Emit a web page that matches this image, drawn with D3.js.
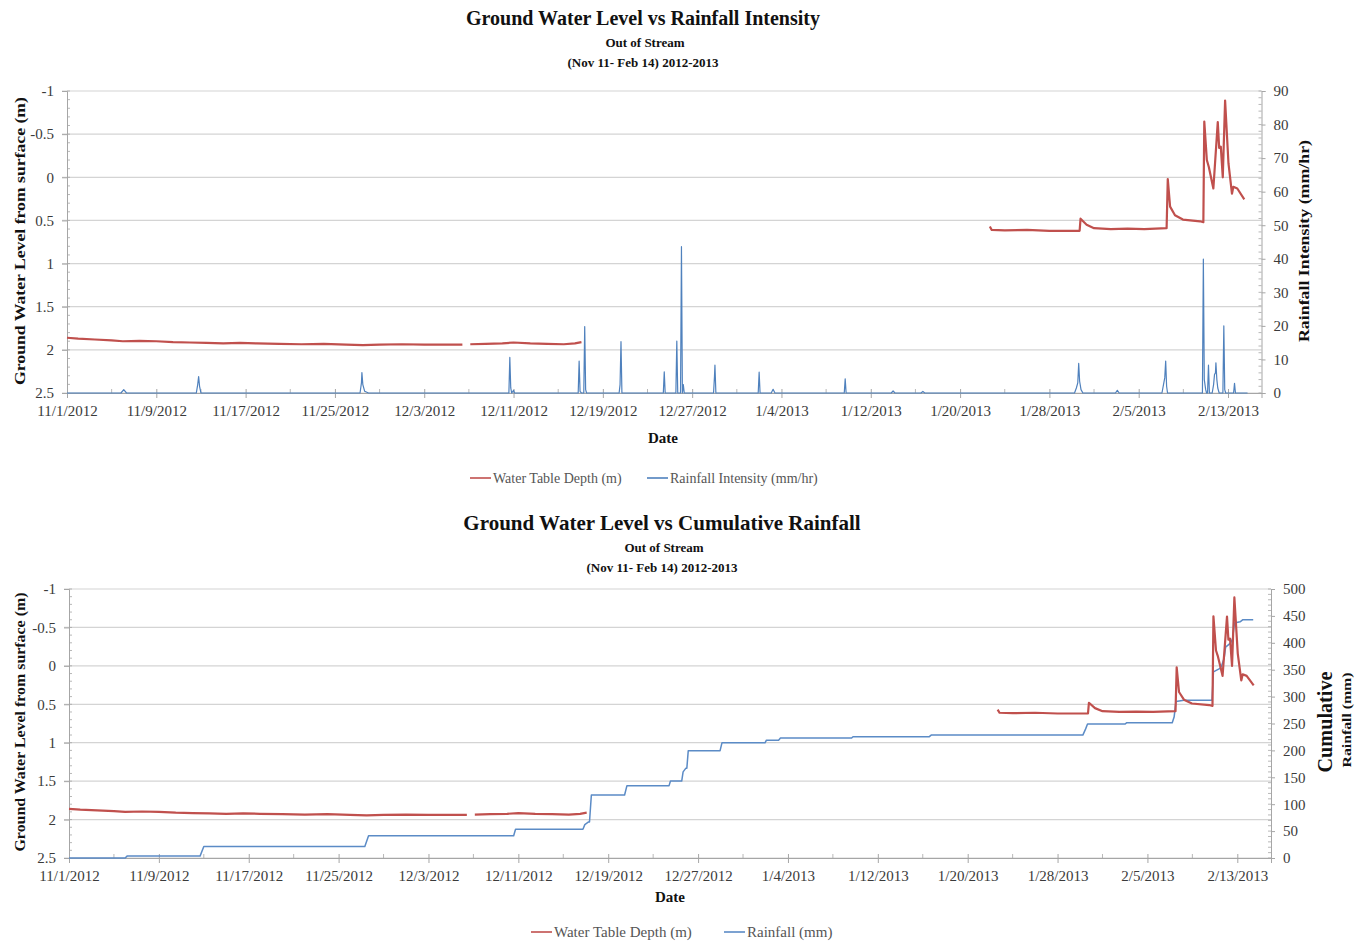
<!DOCTYPE html>
<html>
<head>
<meta charset="utf-8">
<script src="https://cdn.jsdelivr.net/npm/d3@7"></script>
<style>
  body { margin: 0; background: #fff; }
  svg { display: block; font-family: "Liberation Serif", "Times New Roman", serif; }
</style>
</head>
<body>
<svg id="chart" width="1366" height="943"></svg>
<script>
// ---- Axis labels -------------------------------------------------------
const dateTicks = ["11/1/2012", "11/9/2012", "11/17/2012", "11/25/2012", "12/3/2012",
  "12/11/2012", "12/19/2012", "12/27/2012", "1/4/2013", "1/12/2013", "1/20/2013",
  "1/28/2013", "2/5/2013", "2/13/2013"];
const dateAxisEnd = "2/16/2013";
const depthTicks = [-1, -0.5, 0, 0.5, 1, 1.5, 2, 2.5];
const intensityTicks = [0, 10, 20, 30, 40, 50, 60, 70, 80, 90];
const cumulativeTicks = [0, 50, 100, 150, 200, 250, 300, 350, 400, 450, 500];

// ---- Water table depth below surface (m); null marks a logger gap ------
const depthTime = [
  "2012-11-01 00:00", "2012-11-02 00:00", "2012-11-03 12:00", "2012-11-05 00:00",
  "2012-11-06 00:00", "2012-11-07 12:00", "2012-11-09 00:00", "2012-11-10 12:00",
  "2012-11-12 00:00", "2012-11-13 12:00", "2012-11-15 00:00", "2012-11-16 12:00",
  "2012-11-18 00:00", "2012-11-20 00:00", "2012-11-22 00:00", "2012-11-24 00:00",
  "2012-11-26 00:00", "2012-11-27 12:00", "2012-11-29 00:00", "2012-12-01 00:00",
  "2012-12-03 00:00", "2012-12-05 00:00", "2012-12-06 10:00", "2012-12-06 16:00",
  "2012-12-07 03:00", "2012-12-08 12:00", "2012-12-10 00:00", "2012-12-11 00:00",
  "2012-12-12 12:00", "2012-12-14 00:00", "2012-12-15 12:00", "2012-12-16 12:00",
  "2012-12-17 02:00", "2012-12-17 08:00",
  "2013-01-22 16:00", "2013-01-22 20:00", "2013-01-24 00:00", "2013-01-26 00:00",
  "2013-01-28 00:00", "2013-01-30 17:00", "2013-01-30 19:00", "2013-01-31 08:00",
  "2013-02-01 00:00", "2013-02-02 12:00", "2013-02-04 00:00", "2013-02-05 12:00",
  "2013-02-07 12:00", "2013-02-07 14:30", "2013-02-07 19:30", "2013-02-08 06:00",
  "2013-02-08 23:00", "2013-02-10 12:00", "2013-02-10 19:00", "2013-02-10 21:00",
  "2013-02-11 02:30", "2013-02-11 06:45", "2013-02-11 16:30", "2013-02-12 02:00",
  "2013-02-12 05:00", "2013-02-12 08:30", "2013-02-12 12:45", "2013-02-12 17:45",
  "2013-02-13 01:00", "2013-02-13 08:30", "2013-02-13 11:30", "2013-02-13 20:00",
  "2013-02-14 11:00"
];
const depthValue = [
  1.86, 1.87, 1.88, 1.89,
  1.90, 1.895, 1.90, 1.91,
  1.915, 1.92, 1.925, 1.92,
  1.925, 1.93, 1.935, 1.93,
  1.94, 1.945, 1.94, 1.935,
  1.94, 1.94, 1.94, null,
  1.935, 1.93, 1.925, 1.915,
  1.925, 1.93, 1.935, 1.925,
  1.91, null,
  0.57, 0.61, 0.615, 0.61,
  0.62, 0.62, 0.48, 0.55,
  0.59, 0.60, 0.595, 0.60,
  0.59, 0.02, 0.34, 0.44,
  0.49, 0.51, 0.52, -0.645,
  -0.20, -0.12, 0.13, -0.64,
  -0.34, -0.355, 0.0, -0.89,
  -0.16, 0.19, 0.11, 0.13,
  0.255
];

// ---- Rainfall intensity (mm/hr) ----------------------------------------
const intensityTime = [
  "2012-11-01 00:00", "2012-11-05 20:00", "2012-11-06 02:00", "2012-11-06 08:00",
  "2012-11-12 14:00", "2012-11-12 17:00", "2012-11-12 19:00", "2012-11-12 21:00", "2012-11-13 00:00",
  "2012-11-27 06:00", "2012-11-27 09:00", "2012-11-27 10:00", "2012-11-27 12:00", "2012-11-27 16:00", "2012-11-28 00:00",
  "2012-12-10 14:00", "2012-12-10 16:00", "2012-12-10 18:00", "2012-12-10 20:00", "2012-12-11 00:00", "2012-12-11 02:00",
  "2012-12-16 19:00", "2012-12-16 21:00", "2012-12-16 23:00", "2012-12-17 02:00",
  "2012-12-17 07:00", "2012-12-17 09:00", "2012-12-17 11:00", "2012-12-17 13:00",
  "2012-12-20 11:00", "2012-12-20 13:00", "2012-12-20 15:00", "2012-12-20 17:00",
  "2012-12-24 10:00", "2012-12-24 12:00", "2012-12-24 14:00",
  "2012-12-25 13:00", "2012-12-25 15:00", "2012-12-25 17:00",
  "2012-12-25 23:00", "2012-12-26 01:00", "2012-12-26 03:00", "2012-12-26 05:00", "2012-12-26 07:00",
  "2012-12-28 22:00", "2012-12-29 00:00", "2012-12-29 01:00", "2012-12-29 03:00",
  "2013-01-01 22:00", "2013-01-02 00:00", "2013-01-02 02:00",
  "2013-01-03 02:00", "2013-01-03 06:00", "2013-01-03 10:00",
  "2013-01-09 15:00", "2013-01-09 17:00", "2013-01-09 19:00",
  "2013-01-13 20:00", "2013-01-14 00:00", "2013-01-14 04:00",
  "2013-01-16 12:00", "2013-01-16 16:00", "2013-01-16 20:00",
  "2013-01-30 06:00", "2013-01-30 10:00", "2013-01-30 13:00", "2013-01-30 15:00", "2013-01-30 17:00", "2013-01-30 20:00", "2013-01-31 00:00",
  "2013-02-02 22:00", "2013-02-03 02:00", "2013-02-03 06:00",
  "2013-02-07 02:00", "2013-02-07 06:00", "2013-02-07 08:00", "2013-02-07 10:00", "2013-02-07 12:00", "2013-02-07 14:00",
  "2013-02-10 17:00", "2013-02-10 19:00", "2013-02-10 21:00", "2013-02-11 00:00", "2013-02-11 02:00",
  "2013-02-11 04:00", "2013-02-11 06:00", "2013-02-11 08:00",
  "2013-02-11 14:00", "2013-02-11 17:00", "2013-02-11 19:00", "2013-02-11 21:00", "2013-02-11 22:00", "2013-02-12 00:00", "2013-02-12 02:00", "2013-02-12 05:00",
  "2013-02-12 13:00", "2013-02-12 15:00", "2013-02-12 17:00", "2013-02-12 19:00",
  "2013-02-13 12:00", "2013-02-13 14:00", "2013-02-13 16:00",
  "2013-02-14 18:00"
];
const intensityValue = [
  0, 0, 1.0, 0,
  0, 2.5, 4.9, 2.0, 0,
  0, 3.0, 6.1, 2.5, 0.5, 0,
  0, 10.6, 1.5, 0, 0.8, 0,
  0, 9.5, 0.5, 0,
  0, 19.8, 1.0, 0,
  0, 2.5, 15.3, 0,
  0, 6.3, 0,
  0, 15.5, 0,
  0, 43.6, 0, 2.5, 0,
  0, 5.0, 8.3, 0,
  0, 6.2, 0,
  0, 1.1, 0,
  0, 4.2, 0,
  0, 0.6, 0,
  0, 0.5, 0,
  0, 1.5, 3.0, 8.8, 3.5, 1.0, 0,
  0, 0.8, 0,
  0, 3.0, 4.5, 9.5, 2.0, 0,
  0, 39.9, 4.0, 1.0, 0,
  0, 8.3, 0,
  0, 2.5, 5.5, 6.0, 9.0, 4.0, 1.5, 0,
  0, 20.0, 1.0, 0,
  0, 2.9, 0,
  0
];

// ---- Cumulative rainfall (mm) ------------------------------------------
const cumulativeTime = [
  "2012-11-01 00:00", "2012-11-06 00:00", "2012-11-06 04:00", "2012-11-12 16:00",
  "2012-11-13 00:00", "2012-11-27 08:00", "2012-11-27 16:00", "2012-12-10 14:00",
  "2012-12-10 18:00", "2012-12-16 18:00", "2012-12-16 22:00", "2012-12-17 06:00",
  "2012-12-17 08:00", "2012-12-17 12:00", "2012-12-20 11:00", "2012-12-20 16:00",
  "2012-12-24 10:00", "2012-12-24 13:00", "2012-12-25 13:00", "2012-12-25 16:00",
  "2012-12-25 22:00", "2012-12-26 00:00", "2012-12-26 03:00", "2012-12-28 23:00",
  "2012-12-29 03:00", "2013-01-01 23:00", "2013-01-02 02:00", "2013-01-03 04:00",
  "2013-01-03 08:00", "2013-01-09 16:00", "2013-01-09 19:00", "2013-01-16 14:00",
  "2013-01-16 18:00", "2013-01-30 06:00", "2013-01-30 12:00", "2013-01-30 16:00",
  "2013-02-03 00:00", "2013-02-03 04:00", "2013-02-07 05:00", "2013-02-07 09:00",
  "2013-02-07 13:00", "2013-02-08 06:00", "2013-02-10 18:00", "2013-02-10 21:00",
  "2013-02-11 10:00", "2013-02-11 14:00", "2013-02-11 20:00", "2013-02-11 23:00",
  "2013-02-12 10:00", "2013-02-12 14:00", "2013-02-12 18:00", "2013-02-13 06:00",
  "2013-02-13 12:00", "2013-02-14 10:00"
];
const cumulativeValue = [
  0, 0, 3.5, 3.5,
  21.5, 21.5, 41.5, 41.5,
  53.5, 53.5, 62, 67,
  67, 117, 117, 134.5,
  134.5, 143, 143, 160,
  167, 167, 199.5, 199.5,
  214, 214, 219, 219,
  223, 223, 225.5, 225.5,
  228.5, 228.5, 240, 249,
  249, 251.5, 251.5, 262,
  291, 293, 293, 346,
  352, 356, 372, 392,
  400, 408, 437, 439,
  443, 443
];

// ---- Drawing -----------------------------------------------------------
const svg = d3.select("#chart");
svg.append("rect").attr("width", 1366).attr("height", 943).attr("fill", "#fff");

const parseTime = d3.timeParse("%Y-%m-%d %H:%M");
const parseTick = d3.timeParse("%m/%d/%Y");
const RED = "#c0504d", BLUE = "#4f81bd", GRID = "#d4d4d4", AXIS = "#a6a6a6", LABEL = "#3a3a3a";

function series(times, values) {
  return times.map((t, i) => ({ t: parseTime(t), v: values[i] }));
}

function drawPanel(p) {
  const g = svg.append("g");
  const x = d3.scaleTime()
    .domain([parseTick(dateTicks[0]), parseTick(dateAxisEnd)])
    .range([p.left, p.right]);
  const yL = d3.scaleLinear()
    .domain([depthTicks[0], depthTicks[depthTicks.length - 1]])
    .range([p.top, p.bottom]);
  const yR = d3.scaleLinear()
    .domain([p.rightTicks[0], p.rightTicks[p.rightTicks.length - 1]])
    .range([p.bottom, p.top]);

  // horizontal gridlines
  g.append("g").selectAll("line").data(depthTicks).join("line")
    .attr("x1", p.left - 5).attr("x2", p.right)
    .attr("y1", d => yL(d)).attr("y2", d => yL(d))
    .attr("stroke", GRID).attr("stroke-width", 1.2);

  // left axis
  const la = g.append("g").attr("transform", `translate(${p.left},0)`)
    .call(d3.axisLeft(yL).tickValues(depthTicks).tickSize(5).tickPadding(8)
      .tickFormat(d => String(d)));
  la.select(".domain").attr("stroke", AXIS);
  la.selectAll(".tick line").attr("stroke", AXIS);
  la.selectAll("text").attr("font-size", 15).attr("fill", LABEL)
    .attr("font-family", "Liberation Serif, serif");
  g.append("g").selectAll("line").data(d3.range(-10, 25, 1).map(d => d / 10)).join("line")
    .attr("x1", p.left).attr("x2", p.left + 3)
    .attr("y1", d => yL(d)).attr("y2", d => yL(d))
    .attr("stroke", AXIS).attr("stroke-width", 0.8);

  // right axis
  const rStep = p.rightTicks[1] - p.rightTicks[0];
  const ra = g.append("g").attr("transform", `translate(${p.right},0)`)
    .call(d3.axisRight(yR).tickValues(p.rightTicks).tickSize(4).tickPadding(8)
      .tickFormat(d => String(d)));
  ra.select(".domain").attr("stroke", AXIS);
  ra.selectAll(".tick line").attr("stroke", AXIS);
  ra.selectAll("text").attr("font-size", 15).attr("fill", LABEL)
    .attr("font-family", "Liberation Serif, serif");
  const rMax = p.rightTicks[p.rightTicks.length - 1];
  g.append("g").selectAll("line").data(d3.range(0, rMax + 0.001, rStep / 5)).join("line")
    .attr("x1", p.right - 3).attr("x2", p.right)
    .attr("y1", d => yR(d)).attr("y2", d => yR(d))
    .attr("stroke", AXIS).attr("stroke-width", 0.8);

  // bottom date axis
  const tickDates = dateTicks.map(parseTick);
  const xa = g.append("g").attr("transform", `translate(0,${p.bottom})`)
    .call(d3.axisBottom(x).tickValues(tickDates).tickSize(5).tickPadding(7)
      .tickFormat(d3.timeFormat("%-m/%-d/%Y")));
  xa.select(".domain").attr("stroke", AXIS);
  xa.selectAll(".tick line").attr("stroke", AXIS).attr("y1", -4);
  xa.selectAll("text").attr("font-size", 15).attr("fill", LABEL)
    .attr("font-family", "Liberation Serif, serif");
  const minor = tickDates.map(d => d3.timeDay.offset(d, 4)).filter(d => x(d) < p.right);
  g.append("g").selectAll("line").data(minor).join("line")
    .attr("x1", d => x(d)).attr("x2", d => x(d))
    .attr("y1", p.bottom - 4).attr("y2", p.bottom)
    .attr("stroke", AXIS).attr("stroke-width", 0.8);

  // rainfall series on the secondary axis
  g.append("path").datum(series(p.rainTime, p.rainValue))
    .attr("fill", "none").attr("stroke", p.rainColor).attr("stroke-width", p.rainWidth)
    .attr("stroke-linejoin", "round")
    .attr("d", d3.line().x(d => x(d.t)).y(d => yR(d.v)));

  // water table depth on the primary axis
  g.append("path").datum(series(depthTime, depthValue))
    .attr("fill", "none").attr("stroke", RED).attr("stroke-width", 2.2)
    .attr("stroke-linejoin", "round")
    .attr("d", d3.line().defined(d => d.v !== null).x(d => x(d.t)).y(d => yL(d.v)));

  // titles
  const t = g.append("g").attr("font-weight", "bold").attr("fill", "#111").attr("text-anchor", "middle");
  t.append("text").attr("x", p.titleX).attr("y", p.titleY).attr("font-size", p.titleSize).text(p.title);
  t.append("text").attr("x", p.titleX + 2).attr("y", p.titleY + 22).attr("font-size", 13).text("Out of Stream");
  t.append("text").attr("x", p.titleX).attr("y", p.titleY + 42).attr("font-size", 13).text("(Nov 11- Feb 14) 2012-2013");

  // axis titles
  t.append("text").attr("transform", `translate(${p.leftTitleX},${p.midY}) rotate(-90)`)
    .attr("dy", "0.35em").attr("font-size", p.leftTitleSize)
    .attr("textLength", p.leftTitleLen).attr("lengthAdjust", "spacingAndGlyphs")
    .text("Ground Water  Level from surface (m)");
  t.append("text").attr("x", p.dateX).attr("y", p.dateY).attr("font-size", 15).text("Date");
  p.rightTitles.forEach(r => {
    t.append("text").attr("transform", `translate(${r.x},${r.y}) rotate(-90)`)
      .attr("dy", "0.35em").attr("font-size", r.size)
      .attr("textLength", r.len).attr("lengthAdjust", "spacingAndGlyphs")
      .text(r.text);
  });

  // legend
  const lg = g.append("g").attr("font-size", p.legendSize).attr("fill", "#555");
  p.legend.forEach(item => {
    lg.append("line").attr("x1", item.x).attr("x2", item.x + 21)
      .attr("y1", p.legendY).attr("y2", p.legendY)
      .attr("stroke", item.color).attr("stroke-width", 1.6);
    lg.append("text").attr("x", item.x + 23).attr("y", p.legendY).attr("dy", "0.35em").text(item.text);
  });
}

drawPanel({
  left: 67, right: 1261.5, top: 91, bottom: 393, midY: 241,
  rightTicks: intensityTicks,
  rainTime: intensityTime, rainValue: intensityValue, rainColor: BLUE, rainWidth: 1.2,
  title: "Ground Water Level vs Rainfall Intensity", titleX: 643, titleY: 25, titleSize: 20,
  leftTitleX: 20, leftTitleSize: 15, leftTitleLen: 288,
  dateX: 663, dateY: 443,
  rightTitles: [{ text: "Rainfall Intensity (mm/hr)", x: 1304, y: 241, size: 15, len: 202 }],
  legendY: 478, legendSize: 14,
  legend: [
    { x: 470, color: RED, text: "Water Table Depth (m)" },
    { x: 647, color: BLUE, text: "Rainfall Intensity (mm/hr)" }
  ]
});

drawPanel({
  left: 69, right: 1271, top: 589, bottom: 858, midY: 722,
  rightTicks: cumulativeTicks,
  rainTime: cumulativeTime, rainValue: cumulativeValue, rainColor: "#5b8bc6", rainWidth: 1.5,
  title: "Ground Water Level vs Cumulative Rainfall", titleX: 662, titleY: 530, titleSize: 21,
  leftTitleX: 20, leftTitleSize: 14, leftTitleLen: 259,
  dateX: 670, dateY: 902,
  rightTitles: [
    { text: "Cumulative", x: 1325, y: 722, size: 21, len: 101 },
    { text: "Rainfall (mm)", x: 1346, y: 720, size: 13, len: 95 }
  ],
  legendY: 932, legendSize: 15,
  legend: [
    { x: 531, color: RED, text: "Water Table Depth (m)" },
    { x: 724, color: "#5b8bc6", text: "Rainfall (mm)" }
  ]
});
</script>
</body>
</html>
